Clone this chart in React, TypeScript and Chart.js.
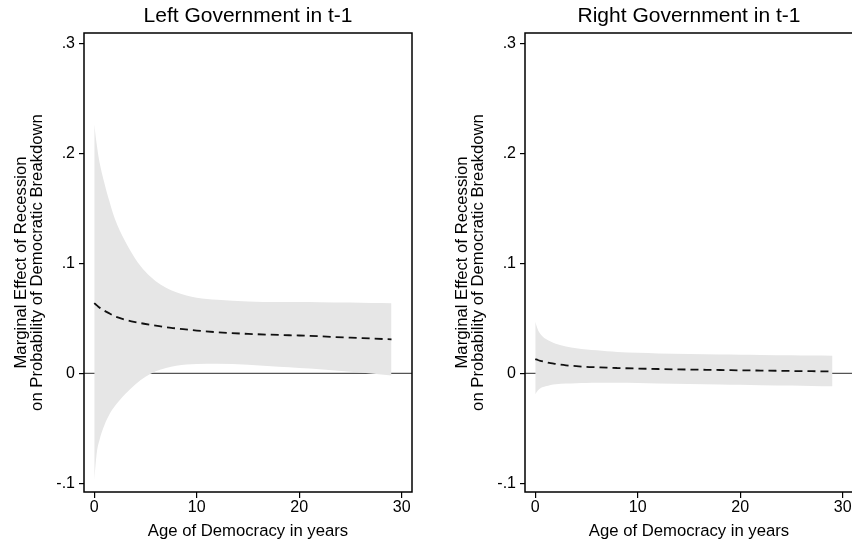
import React, { useEffect, useRef } from 'react';
import { Chart, registerables } from 'chart.js';
Chart.register(...registerables);

const ages = [0, 0.25, 0.5, 1, 1.5, 2, 3, 4, 5, 6, 7, 8, 10, 12, 15, 18, 20, 22, 25, 27, 29];

const leftEstimate = [0.064, 0.062, 0.060, 0.057, 0.0545, 0.052, 0.049, 0.0468, 0.045, 0.0435, 0.042, 0.041, 0.039, 0.0375, 0.036, 0.035, 0.0345, 0.0338, 0.0325, 0.0318, 0.031];
const leftUpper = [0.227, 0.208, 0.193, 0.173, 0.156, 0.141, 0.1205, 0.1045, 0.0925, 0.084, 0.078, 0.074, 0.069, 0.067, 0.0655, 0.065, 0.065, 0.0648, 0.0645, 0.0642, 0.064];
const leftLower = [-0.097, -0.072, -0.061, -0.047, -0.037, -0.030, -0.019, -0.010, -0.003, 0.002, 0.005, 0.007, 0.0085, 0.0088, 0.0078, 0.006, 0.005, 0.0038, 0.0015, 0.0, -0.002];

const rightEstimate = [0.013, 0.0122, 0.0115, 0.0103, 0.0093, 0.0086, 0.0074, 0.0066, 0.006, 0.0056, 0.0052, 0.0049, 0.0044, 0.004, 0.0035, 0.0031, 0.0028, 0.0026, 0.0022, 0.002, 0.0018];
const rightUpper = [0.047, 0.040, 0.036, 0.0315, 0.029, 0.027, 0.0245, 0.023, 0.0218, 0.021, 0.0202, 0.0196, 0.0188, 0.0182, 0.0176, 0.0172, 0.017, 0.0168, 0.0165, 0.0162, 0.016];
const rightLower = [-0.019, -0.0155, -0.0135, -0.0118, -0.0105, -0.0098, -0.0092, -0.0089, -0.0087, -0.0086, -0.0086, -0.0086, -0.0088, -0.0091, -0.0096, -0.0101, -0.0104, -0.0107, -0.0111, -0.0114, -0.0117];

const xTicks = [0, 10, 20, 30];
const yTicks = [-0.1, 0, 0.1, 0.2, 0.3];
const yTickLabels = ['-.1', '0', '.1', '.2', '.3'];

const panelTitles = ['Left Government in t-1', 'Right Government in t-1'];
const yAxisTitle = ['Marginal Effect of Recession', 'on Probability of Democratic Breakdown'];
const xAxisTitle = 'Age of Democracy in years';

const FONT = "'Liberation Sans', Arial, Helvetica, sans-serif";

function toPoints(vals: number[]) {
  return ages.map((a, i) => ({ x: a, y: vals[i] }));
}

const framePlugin = {
  id: 'frame',
  beforeDatasetsDraw(chart: any) {
    const { ctx, chartArea: ca, scales } = chart;
    const y0 = scales.y.getPixelForValue(0);
    ctx.save();
    ctx.strokeStyle = '#555555';
    ctx.lineWidth = 1.2;
    ctx.beginPath();
    ctx.moveTo(ca.left, y0);
    ctx.lineTo(ca.right, y0);
    ctx.stroke();
    ctx.restore();
  },
  afterDraw(chart: any, _args: any, opts: any) {
    const { ctx, chartArea: ca } = chart;
    ctx.save();
    ctx.strokeStyle = '#000000';
    ctx.lineWidth = 1.5;
    ctx.strokeRect(ca.left, ca.top, ca.right - ca.left, ca.bottom - ca.top);
    ctx.fillStyle = '#000';
    ctx.font = `21px ${FONT}`;
    ctx.textAlign = 'center';
    ctx.textBaseline = 'middle';
    ctx.fillText(opts.text, (ca.left + ca.right) / 2, 16);
    ctx.restore();
  },
};

function Panel({ title, est, up, lo, left }: { title: string; est: number[]; up: number[]; lo: number[]; left: number }) {
  const ref = useRef<HTMLCanvasElement>(null);
  useEffect(() => {
    if (!ref.current) return;
    const chart = new Chart(ref.current, {
      type: 'line',
      data: {
        datasets: [
          {
            label: 'Marginal effect',
            data: toPoints(est),
            borderColor: '#111111',
            borderWidth: 1.8,
            borderDash: [8, 5],
            pointRadius: 0,
            fill: false,
            cubicInterpolationMode: 'monotone',
          },
          {
            label: 'Upper',
            data: toPoints(up),
            borderColor: 'rgba(0,0,0,0)',
            borderWidth: 0,
            backgroundColor: '#e6e6e6',
            pointRadius: 0,
            fill: '+1',
            cubicInterpolationMode: 'monotone',
          },
          {
            label: 'Lower',
            data: toPoints(lo),
            borderColor: 'rgba(0,0,0,0)',
            borderWidth: 0,
            pointRadius: 0,
            fill: false,
            cubicInterpolationMode: 'monotone',
          },
        ],
      },
      options: {
        animation: false,
        responsive: false,
        devicePixelRatio: 1,
        layout: { padding: { left: 0, right: 28, top: 33, bottom: 0 } },
        plugins: {
          legend: { display: false },
          tooltip: { enabled: false },
          title: { display: false },
          frame: { text: title },
        },
        scales: {
          x: {
            type: 'linear',
            min: -1,
            max: 31,
            afterFit: (s: any) => { s.height = 52; },
            afterBuildTicks: (s: any) => { s.ticks = xTicks.map((v) => ({ value: v })); },
            grid: { drawOnChartArea: false, drawTicks: true, tickLength: 6, color: '#000', lineWidth: 1.2 },
            border: { display: false },
            ticks: {
              color: '#000',
              padding: 0,
              maxRotation: 0,
              font: { family: FONT, size: 16 },
              callback: (v: any) => String(v),
            },
            title: {
              display: true,
              text: xAxisTitle,
              color: '#000',
              font: { family: FONT, size: 16.7, lineHeight: 1.2 },
              padding: { top: 0, bottom: 3 },
            },
          },
          y: {
            type: 'linear',
            min: -0.108,
            max: 0.31,
            afterFit: (s: any) => { s.width = 84; },
            afterBuildTicks: (s: any) => { s.ticks = yTicks.map((v) => ({ value: v })); },
            grid: { drawOnChartArea: false, drawTicks: true, tickLength: 5, color: '#000', lineWidth: 1.2 },
            border: { display: false },
            ticks: {
              color: '#000',
              padding: 4,
              font: { family: FONT, size: 16 },
              callback: (v: any) => {
                const i = yTicks.findIndex((t) => Math.abs(t - v) < 1e-9);
                return i >= 0 ? yTickLabels[i] : '';
              },
            },
            title: {
              display: true,
              text: yAxisTitle,
              color: '#000',
              font: { family: FONT, size: 16.7, lineHeight: 0.96 },
              padding: { top: 13, bottom: 0 },
            },
          },
        },
      },
      plugins: [framePlugin],
    } as any);
    return () => chart.destroy();
  }, []);
  return (
    <div style={{ position: 'fixed', left, top: 0, width: 440, height: 544 }}>
      <canvas ref={ref} width={440} height={544} style={{ display: 'block', width: 440, height: 544 }} />
    </div>
  );
}

export default function App() {
  return (
    <div style={{ width: 852, height: 544, background: '#fff' }}>
      <Panel title={panelTitles[0]} est={leftEstimate} up={leftUpper} lo={leftLower} left={0} />
      <Panel title={panelTitles[1]} est={rightEstimate} up={rightUpper} lo={rightLower} left={441} />
    </div>
  );
}
